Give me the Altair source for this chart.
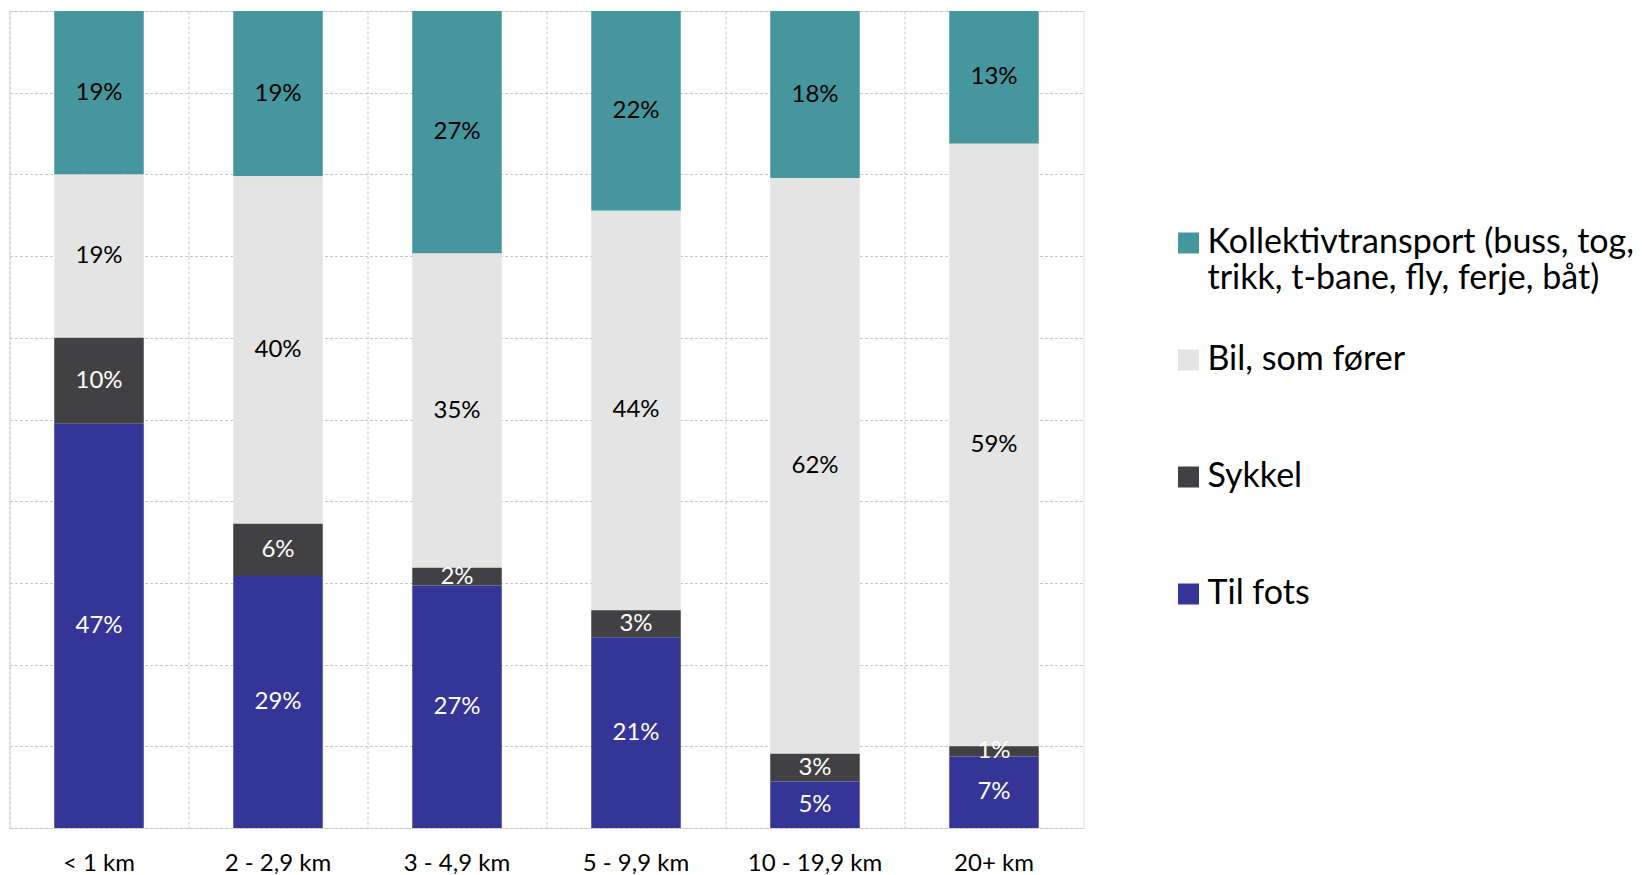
import altair as alt
import pandas as pd

categories = ["< 1 km", "2 - 2,9 km", "3 - 4,9 km", "5 - 9,9 km", "10 - 19,9 km", "20+ km"]
modes = ["Kollektivtransport (buss, tog, trikk, t-bane, fly, ferje, båt)",
         "Bil, som fører", "Sykkel", "Til fots"]
til_fots = [47, 29, 27, 21, 5, 7]
sykkel = [10, 6, 2, 3, 3, 1]
bil = [19, 40, 35, 44, 62, 59]
kollektiv = [19, 19, 27, 22, 18, 13]

colors = ["#45969D", "#E4E4E4", "#414143", "#353497"]
text_colors = ["#000000", "#000000", "#FFFFFF", "#FFFFFF"]

series = [kollektiv, bil, sykkel, til_fots]
rows = []
for mi, (m, vals) in enumerate(zip(modes, series)):
    for ci, c in enumerate(categories):
        rows.append({"cat": c, "mode": m, "value": vals[ci],
                     "ord": 3 - mi, "tc": text_colors[mi]})
df = pd.DataFrame(rows)

FONT = "Lato"
GRID = "#C8C8C8"
DASH = [3, 2]

base = alt.Chart(df).transform_stack(
    stack="value", groupby=["cat"], as_=["y0", "y1"], offset="normalize",
    sort=[alt.SortField("ord", order="ascending")]
).transform_calculate(
    ymid="(datum.y0 + datum.y1) / 2", lab="datum.value + '%'"
)

xenc = alt.X("cat:N", sort=categories,
             scale=alt.Scale(paddingInner=0, paddingOuter=0),
             axis=alt.Axis(title=None, grid=True, bandPosition=0, gridDash=DASH,
                           gridColor=GRID, gridWidth=1, domain=False, ticks=False,
                           labelFont=FONT, labelFontSize=24, labelColor="#000000",
                           labelPadding=23, labelAngle=0))

bars = base.mark_bar(width=alt.RelativeBandSize(0.5)).encode(
    x=xenc,
    y=alt.Y("y0:Q", scale=alt.Scale(domain=[0, 1], nice=False, zero=True),
            axis=alt.Axis(title=None, values=[i / 10 for i in range(11)], labels=False,
                          ticks=False, domain=False, grid=True, gridDash=DASH,
                          gridColor=GRID, gridWidth=1)),
    y2="y1:Q",
    color=alt.Color("mode:N", scale=alt.Scale(domain=modes, range=colors),
                    legend=alt.Legend(
                        title=None, orient="none", legendX=1162, legendY=215,
                        symbolType="square", symbolSize=441, symbolStrokeWidth=0,
                        labelFont=FONT, labelFontSize=34,
                        labelColor="#000000", labelOffset=2, labelLimit=480,
                        rowPadding=47, padding=0, gridAlign="all",
                        labelExpr="indexof(datum.label, 'tog, ') > 0 ? [slice(datum.label, 0, indexof(datum.label, 'tog, ') + 4), slice(datum.label, indexof(datum.label, 'tog, ') + 5)] : datum.label"
                    )),
)

labels = base.mark_text(font=FONT, fontSize=24, baseline="middle").encode(
    x=alt.X("cat:N", sort=categories),
    y=alt.Y("ymid:Q"),
    text="lab:N",
    color=alt.Color("tc:N", scale=None),
)

chart = alt.layer(bars, labels).properties(
    width=1074, height=817,
    autosize=alt.AutoSizeParams(type="none"),
    padding={"left": 9.5, "top": 11, "right": 562, "bottom": 47},
).configure_view(
    stroke=GRID, strokeDash=DASH, strokeWidth=1
).configure(background="white")

chart.save("out.html", embed_options={"renderer": "svg", "actions": False})
